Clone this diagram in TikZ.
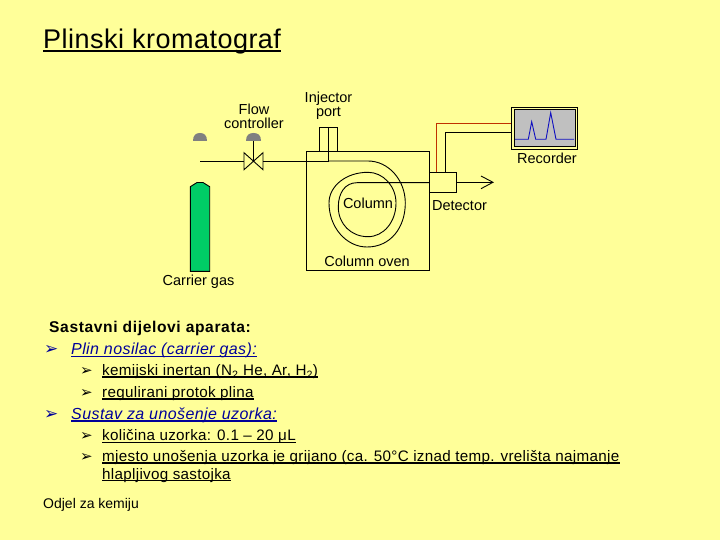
\documentclass[tikz,border=0pt]{standalone}
\usepackage{fontspec}
\setmainfont{Liberation Sans}
\newfontfamily\dejavu{DejaVu Sans}
\definecolor{bg}{HTML}{FFFF99}
\definecolor{gas}{HTML}{00CC66}
\definecolor{knob}{HTML}{808080}
\definecolor{wire}{HTML}{C03000}
\definecolor{screen}{HTML}{C0C0C0}
\definecolor{trace}{HTML}{1010C0}
\definecolor{navy}{HTML}{000099}
\tikzset{
  box/.style={draw=black,line width=.9pt,inner sep=0pt,rectangle,fill=none},
  pipe/.style={draw=black,line width=.9pt},
  lab/.style={inner sep=0pt,font=\fontsize{14.5}{15}\selectfont,align=center,text=black},
  txt/.style={inner sep=0pt,anchor=base west,font=\fontsize{15.2}{17}\selectfont\addfontfeature{LetterSpace=2},text=black},
  sub/.style={txt,text=navy,font=\fontsize{16}{18}\selectfont\itshape\addfontfeature{LetterSpace=2.6}},
  ulk/.style={line width=1.5pt,black},
  ulb/.style={line width=1.2pt,navy},
  bigbul/.style={inner sep=0pt,anchor=base west,text=navy,font=\dejavu\fontsize{17}{17}\selectfont},
  smallbul/.style={inner sep=0pt,anchor=base west,text=black,font=\dejavu\fontsize{15}{15}\selectfont},
}
\begin{document}
\begin{tikzpicture}[x=1pt,y=-1pt]
\fill[bg] (0,0) rectangle (720,540);
\useasboundingbox (0,0) rectangle (720,540);
% title
\node[inner sep=0pt,anchor=base west,font=\fontsize{27}{30}\selectfont\addfontfeature{LetterSpace=1.8},text=black] (title) at (43,48.3) {Plinski kromatograf};
\draw[line width=1.8pt] ([yshift=-2.8pt]title.base west) -- ([yshift=-2.8pt]title.base east);
% cylinder and knobs
\fill[gas,draw=black,line width=.9pt] (190.3,271.3) -- (190.3,186.7) -- (197,182.5) -- (203,182.5) -- (209.7,186.7) -- (209.7,271.3) -- cycle;
\fill[knob] (193,141) .. controls (193,135) and (196,133) .. (200,133) .. controls (204,133) and (207,135) .. (207,141) -- cycle;
\fill[knob] (246,141) .. controls (246,135) and (249,133) .. (253.5,133) .. controls (258,133) and (261,135) .. (261,141) -- cycle;
% equipment
\node[box,minimum width=123pt,minimum height=119pt] (oven) at (367.8,210.8) {};
\node[box,minimum width=18.4pt,minimum height=24.3pt] (inj) at (328.5,139.2) {};
\node[box,minimum width=27.4pt,minimum height=20pt] (det) at (443,182.3) {};
\node[box,minimum width=66pt,minimum height=42pt] (rec) at (544.3,128.3) {};
\node[box,fill=screen,minimum width=60.7pt,minimum height=37.4pt] (scr) at (544.6,128) {};
% valve
\coordinate (vc) at (253.5,161);
\coordinate (src) at (200,161);
\coordinate (vl) at (244,161);
\coordinate (vr) at (263,161);
\coordinate (kb) at (253.5,141);
\coordinate (jc) at (328.5,161);
\coordinate (jt) at (328.5,127);
\draw[pipe] (244,152.7) -- (263,169.7) -- (263,152.7) -- (244,169.7) -- cycle;
\draw[pipe] (src) -- (vl);
\draw[pipe] (vr) -- (jc);
\draw[pipe] (kb) -- (vc);
\draw[pipe] (jt) -- (jc);
% column coil
\draw[pipe] (jc) -- (368,161)
  .. controls (388.5,161) and (405.3,180) .. (405.3,203)
  .. controls (405.3,227) and (391,247) .. (367,247)
  .. controls (346,247) and (329,227) .. (329,203)
  .. controls (329,186) and (346,172.3) .. (368,172.3)
  .. controls (383,172.3) and (396,186) .. (396,203)
  .. controls (396,222) and (383.5,236.7) .. (368,236.7)
  .. controls (351,236.7) and (338.3,224) .. (338.3,207)
  .. controls (338.3,193) and (345,182.7) .. (357,182.7)
  -- (det.west |- 357,182.7);
% outlet
\coordinate (out) at (493,182.3);
\draw[pipe] (det.east) -- (out);
\draw[pipe] (481,176) -- (out) -- (481,188.7);
% signal wires
\draw[line width=1.1pt,wire] (436.7,172.3) |- (rec.west |- 0,123.3);
\draw[pipe] (445.3,172.3) |- (rec.west |- 0,132.3);
% trace
\draw[trace,line width=.9pt] (515,139.3) -- (528.3,139.3) -- (531.7,121.7) -- (535.7,139.3) -- (546,139.3) -- (550.7,112.7) -- (556,139.3) -- (574,139.3);
% labels
\node[lab] (lflow) at (254,116.5) {Flow\\[-1pt]controller};
\node[lab] (linj) at (328.5,105.5) {Injector\\[-1pt]port};
\node[lab] (lrec) at (547,158.5) {Recorder};
\node[lab] (ldet) at (459.5,205.5) {Detector};
\node[lab] (lcol) at (368,203.5) {Column};
\node[lab] (lov) at (367,261) {Column oven};
\node[lab] (lcar) at (198.5,282) {Carrier gas};
% text
\node[txt,font=\fontsize{15.6}{17}\selectfont\bfseries\addfontfeature{LetterSpace=4},text=black] (t0) at (49,332) {Sastavni dijelovi aparata:};
\node[bigbul] (b1) at (44,354) {➢};
\node[sub] (t1) at (71,354) {Plin nosilac (carrier gas):};
\draw[ulb] ([yshift=-2.7pt]t1.base west) -- ([yshift=-2.7pt]t1.base east);
\node[smallbul] (b2) at (80,375.7) {➢};
\node[txt] (t2) at (102,375.7) {kemijski inertan (N\textsubscript{2} He, Ar, H\textsubscript{2})};
\draw[ulk] ([yshift=-1.5pt]t2.base west) -- ([yshift=-1.5pt]t2.base east);
\node[smallbul] (b3) at (80,397.3) {➢};
\node[txt] (t3) at (102,397.3) {regulirani protok plina};
\draw[ulk] ([yshift=-1.5pt]t3.base west) -- ([yshift=-1.5pt]t3.base east);
\node[bigbul] (b4) at (44,419.3) {➢};
\node[sub] (t4) at (71,419.3) {Sustav za unošenje uzorka:};
\draw[ulb] ([yshift=-1.7pt]t4.base west) -- ([yshift=-1.7pt]t4.base east);
\node[smallbul] (b5) at (80,440.7) {➢};
\node[txt] (t5) at (102,440.7) {količina uzorka: 0.1 – 20 μL};
\draw[ulk] ([yshift=-2pt]t5.base west) -- ([yshift=-2pt]t5.base east);
\node[smallbul] (b6) at (80,461.7) {➢};
\node[txt] (t6) at (102,461.7) {mjesto unošenja uzorka je grijano (ca. 50°C iznad temp. vrelišta najmanje};
\draw[ulk] ([yshift=-1.5pt]t6.base west) -- ([yshift=-1.5pt]t6.base east);
\node[txt] (t7) at (102,479) {hlapljivog sastojka};
\draw[ulk] ([yshift=-1.7pt]t7.base west) -- ([yshift=-1.7pt]t7.base east);
\node[inner sep=0pt,anchor=base west,font=\fontsize{14}{15}\selectfont,text=black] (foot) at (43,508.3) {Odjel za kemiju};
\end{tikzpicture}
\end{document}
